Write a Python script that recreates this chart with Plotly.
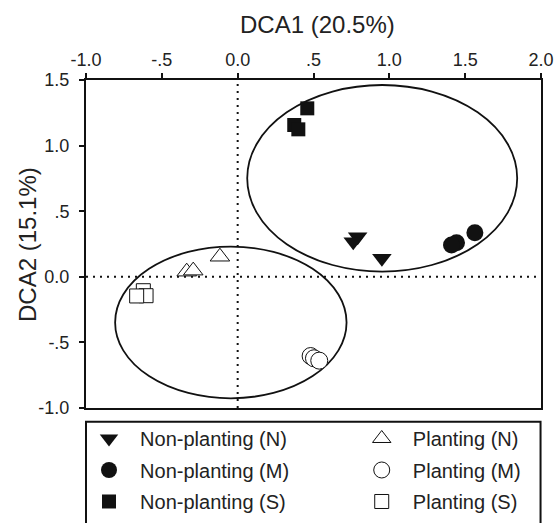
import plotly.graph_objects as go

# ---- data ----
series_names = ["Non-planting (N)", "Non-planting (M)", "Non-planting (S)",
                "Planting (N)", "Planting (M)", "Planting (S)"]

np_n_x = [0.791, 0.762, 0.951]
np_n_y = [0.306, 0.268, 0.141]
np_m_x = [1.564, 1.443, 1.410]
np_m_y = [0.336, 0.260, 0.242]
np_s_x = [0.459, 0.373, 0.400]
np_s_y = [1.284, 1.157, 1.124]

p_n_x = [-0.117, -0.336, -0.293]
p_n_y = [0.153, 0.039, 0.047]
p_m_x = [0.481, 0.503, 0.538]
p_m_y = [-0.604, -0.621, -0.639]
p_s_x = [-0.622, -0.604, -0.666]
p_s_y = [-0.106, -0.144, -0.146]

# group ellipses: centre x, centre y, half-width, half-height (data units)
ellipse_cx = [0.953, -0.045]
ellipse_cy = [0.751, -0.348]
ellipse_rx = [0.890, 0.763]
ellipse_ry = [0.711, 0.578]

x_tickvals = [-1.0, -0.5, 0.0, 0.5, 1.0, 1.5, 2.0]
x_ticktext = ["-1.0", "-.5", "0.0", ".5", "1.0", "1.5", "2.0"]
y_tickvals = [-1.0, -0.5, 0.0, 0.5, 1.0, 1.5]
y_ticktext = ["-1.0", "-.5", "0.0", ".5", "1.0", "1.5"]

x_title = "DCA1 (20.5%)"
y_title = "DCA2 (15.1%)"

FONT = "Liberation Sans, Arial, sans-serif"
BLK = "#111111"
TXT = "#222222"
NB = "\u00a0\u00a0"

fig = go.Figure()

specs = [
    (np_n_x, np_n_y, series_names[0], "triangle-down", True, 17, "legend", "g1"),
    (np_m_x, np_m_y, series_names[1], "circle", True, 17, "legend", "g2"),
    (np_s_x, np_s_y, series_names[2], "square", True, 14, "legend", "g3"),
    (p_n_x, p_n_y, series_names[3], "triangle-up", False, 17, "legend2", "g4"),
    (p_m_x, p_m_y, series_names[4], "circle", False, 17, "legend2", "g5"),
    (p_s_x, p_s_y, series_names[5], "square", False, 14, "legend2", "g6"),
]
for xs, ys, name, sym, filled, size, leg, grp in specs:
    fig.add_trace(go.Scatter(
        x=xs, y=ys, mode="markers", name=NB + name, legend=leg, legendgroup=grp,
        marker=dict(symbol=sym, size=size,
                    color=BLK if filled else "white",
                    line=dict(color=BLK, width=0 if filled else 1)),
    ))

shapes = []
for cx, cy, rx, ry in zip(ellipse_cx, ellipse_cy, ellipse_rx, ellipse_ry):
    shapes.append(dict(type="circle", xref="x", yref="y",
                       x0=cx - rx, x1=cx + rx, y0=cy - ry, y1=cy + ry,
                       line=dict(color=BLK, width=1.8), layer="below"))
# dotted reference lines through the origin
shapes.append(dict(type="line", xref="x", yref="paper", x0=0, x1=0, y0=0, y1=1,
                   line=dict(color=BLK, width=2, dash="2px,5px"), layer="below"))
shapes.append(dict(type="line", xref="paper", yref="y", x0=0, x1=1, y0=0, y1=0,
                   line=dict(color=BLK, width=2, dash="2px,5px"), layer="below"))
# legend frame (runs off the bottom of the page, as in the reference)
shapes.append(dict(type="rect", xref="paper", yref="paper",
                   x0=0.0, x1=0.999, y0=-0.0418, y1=-0.60,
                   line=dict(color=BLK, width=2), fillcolor="rgba(0,0,0,0)"))

annotations = [
    dict(text=x_title, xref="paper", yref="paper", x=0.5088, y=1.1707,
         xanchor="center", yanchor="middle", showarrow=False,
         font=dict(family=FONT, size=24, color=TXT)),
    dict(text=y_title, xref="paper", yref="paper", x=-0.1297, y=0.5,
         xanchor="center", yanchor="middle", showarrow=False, textangle=-90,
         font=dict(family=FONT, size=24, color=TXT)),
]

legend_common = dict(font=dict(family=FONT, size=20, color=TXT),
                     bgcolor="rgba(0,0,0,0)", borderwidth=0,
                     traceorder="grouped", tracegroupgap=2.5,
                     xanchor="left", yanchor="top", xref="paper", yref="paper")

axis_common = dict(ticks="outside", ticklen=5, tickwidth=1.8, tickcolor=BLK,
                   showline=True, linecolor=BLK, linewidth=2, mirror=True,
                   showgrid=False, zeroline=False, automargin=False,
                   tickfont=dict(family=FONT, size=18, color=TXT))

fig.update_layout(
    width=556, height=523,
    margin=dict(l=86, r=15, t=80, b=115, autoexpand=False),
    plot_bgcolor="white", paper_bgcolor="white",
    font=dict(family=FONT, color=TXT),
    showlegend=True,
    legend=dict(x=0.0066, y=-0.0335, **legend_common),
    legend2=dict(x=0.606, y=-0.0335, **legend_common),
    shapes=shapes,
    annotations=annotations,
    xaxis=dict(side="top", range=[-1.0, 2.0], tickvals=x_tickvals, ticktext=x_ticktext,
               **axis_common),
    yaxis=dict(range=[-1.0, 1.5], tickvals=y_tickvals, ticktext=y_ticktext,
               ticklabelstandoff=6, **axis_common),
)

fig.write_html("out.html")
